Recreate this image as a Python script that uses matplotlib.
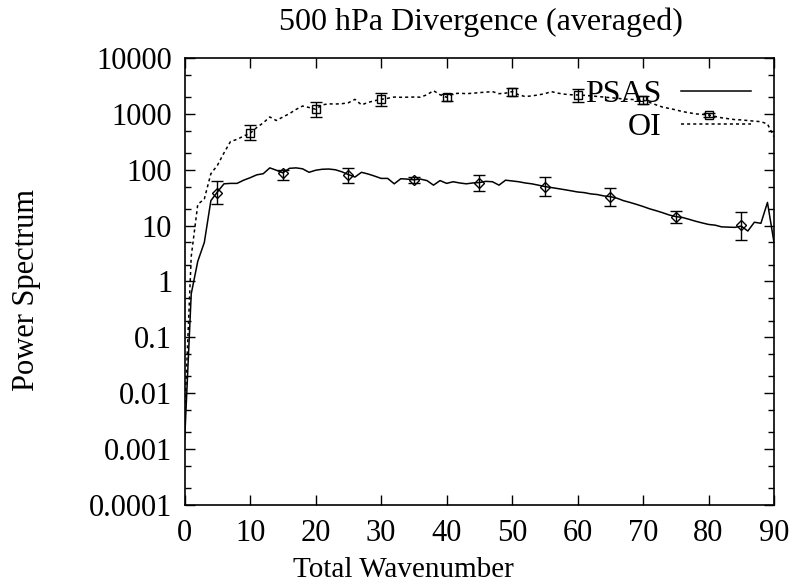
import matplotlib
matplotlib.use("Agg")
import matplotlib.pyplot as plt
from matplotlib.ticker import LogLocator, FixedLocator, NullFormatter
from matplotlib.lines import Line2D
import numpy as np

# wavenumber 0..90
wavenumber = np.arange(0, 91)

psas = [
    0.0015, 0.6, 2.3, 5, 28, 40, 56, 57, 57, 65,
    72, 81, 85, 108, 98, 88, 106, 108, 104, 90,
    98, 102, 103, 100, 92, 82, 74, 90, 84, 77,
    70, 70, 56, 69, 68, 66, 68, 64, 53, 64,
    57, 61, 58, 56, 58, 59, 62, 61, 53, 65,
    63, 61, 58, 56, 53, 50, 48, 46, 44, 42,
    40, 39, 37, 36, 34, 33, 31, 28, 26, 24,
    22, 20, 18.5, 17, 15.5, 14.5, 14, 13, 12, 11.2,
    10.5, 10.2, 9.5, 9.4, 9.3, 9.8, 8, 11.5, 11, 26,
    5,
]

oi = [
    0.004, 2.8, 24, 30, 85, 120, 200, 320, 350, 400,
    450, 570, 690, 880, 760, 880, 1010, 1200, 1380, 1300,
    1210, 1450, 1510, 1500, 1520, 1580, 1820, 1450, 1600, 1720,
    1820, 1900, 2000, 1980, 1990, 2000, 1990, 2200, 2600, 2200,
    1980, 2300, 2340, 2300, 2340, 2400, 2450, 2500, 2300, 2350,
    2500, 2200, 2040, 2100, 2180, 2300, 2500, 2350, 2250, 2200,
    2180, 2150, 2100, 2050, 2000, 1950, 1900, 1850, 1820, 1790,
    1770, 1600, 1450, 1320, 1250, 1180, 1100, 1050, 1000, 980,
    955, 900, 850, 820, 790, 780, 760, 740, 725, 660,
    390,
]

# sampled points with error bars
psas_k = [5, 15, 25, 35, 45, 55, 65, 75, 85]
psas_mid = [39, 86, 81, 66, 59, 50, 33, 14.5, 10.3]
psas_lo = [24, 66, 57, 58, 42, 34, 22, 11.3, 5.5]
psas_hi = [62, 97, 109, 74, 81, 75, 48, 18, 17.8]

oi_k = [10, 20, 30, 40, 50, 60, 70, 80]
oi_mid = [450, 1210, 1820, 1980, 2500, 2180, 1770, 955]
oi_lo = [340, 870, 1400, 1700, 2050, 1650, 1500, 880]
oi_hi = [630, 1610, 2400, 2300, 2950, 2760, 2100, 1040]

xticks = [0, 10, 20, 30, 40, 50, 60, 70, 80, 90]
yticks = [1e-4, 1e-3, 1e-2, 1e-1, 1, 10, 100, 1000, 10000]
ytick_labels = ["0.0001", "0.001", "0.01", "0.1", "1", "10", "100", "1000", "10000"]

plt.rcParams["font.family"] = ["Liberation Serif", "DejaVu Serif"]

W, H = 795, 587
fig = plt.figure(figsize=(W / 100, H / 100), dpi=100)
ax = fig.add_axes([0.2323, 0.1397, 0.9736 - 0.2323, 0.9012 - 0.1397])

dash = (0, (2.0, 2.0))
ax.plot(wavenumber, psas, color="black", lw=1.1)
ax.plot(wavenumber, oi, color="black", lw=1.1, linestyle=dash)

def draw_err(k, mid, lo, hi, marker, ms):
    mid = np.array(mid)
    yerr = [mid - np.array(lo), np.array(hi) - mid]
    ax.errorbar(k, mid, yerr=yerr, fmt="none", ecolor="black",
                elinewidth=1.0, capsize=4, capthick=1.0)
    ax.plot(k, mid, linestyle="none", marker=marker, ms=ms,
            mfc="none", mec="black", mew=1.0)

draw_err(psas_k, psas_mid, psas_lo, psas_hi, "D", 5)
draw_err(oi_k, oi_mid, oi_lo, oi_hi, "s", 6)

ax.set_yscale("log")
ax.set_xlim(0, 90)
ax.set_ylim(1e-4, 1e4)
ax.xaxis.set_major_locator(FixedLocator(xticks))
ax.yaxis.set_major_locator(FixedLocator(yticks))
ax.set_yticklabels(ytick_labels)
ax.yaxis.set_minor_locator(LogLocator(base=10, subs=(2.0, 5.0), numticks=20))
ax.yaxis.set_minor_formatter(NullFormatter())

ax.tick_params(axis="both", which="both", direction="in", top=True, right=True,
               labelsize=22, width=1.0)
ax.tick_params(axis="y", which="major", length=7, pad=9)
ax.tick_params(axis="x", which="major", length=7, pad=10)
ax.tick_params(axis="y", which="minor", length=4)
for s in ax.spines.values():
    s.set_linewidth(1.2)

# title and axis labels placed like the original page
fig.text(481 / W, 1 - 22 / H, "500 hPa Divergence (averaged)", fontsize=23,
         ha="center", va="center")
fig.text(403 / W, 1 - 570 / H, "Total Wavenumber", fontsize=21,
         ha="center", va="center")
fig.text(27 / W, 1 - 290 / H, "Power Spectrum", fontsize=22,
         ha="center", va="center", rotation=90)

# legend drawn over the curves, text before the line sample
handles = [Line2D([], [], color="black", lw=1.1),
           Line2D([], [], color="black", lw=1.1, linestyle=dash)]
ax.legend(handles, ["PSAS", "OI"], loc="upper right", frameon=False,
          markerfirst=False, fontsize=23, handlelength=2.2, handletextpad=0.6,
          labelspacing=0.1, bbox_to_anchor=(1.01, 1.015))

fig.savefig("out.png", dpi=100)
